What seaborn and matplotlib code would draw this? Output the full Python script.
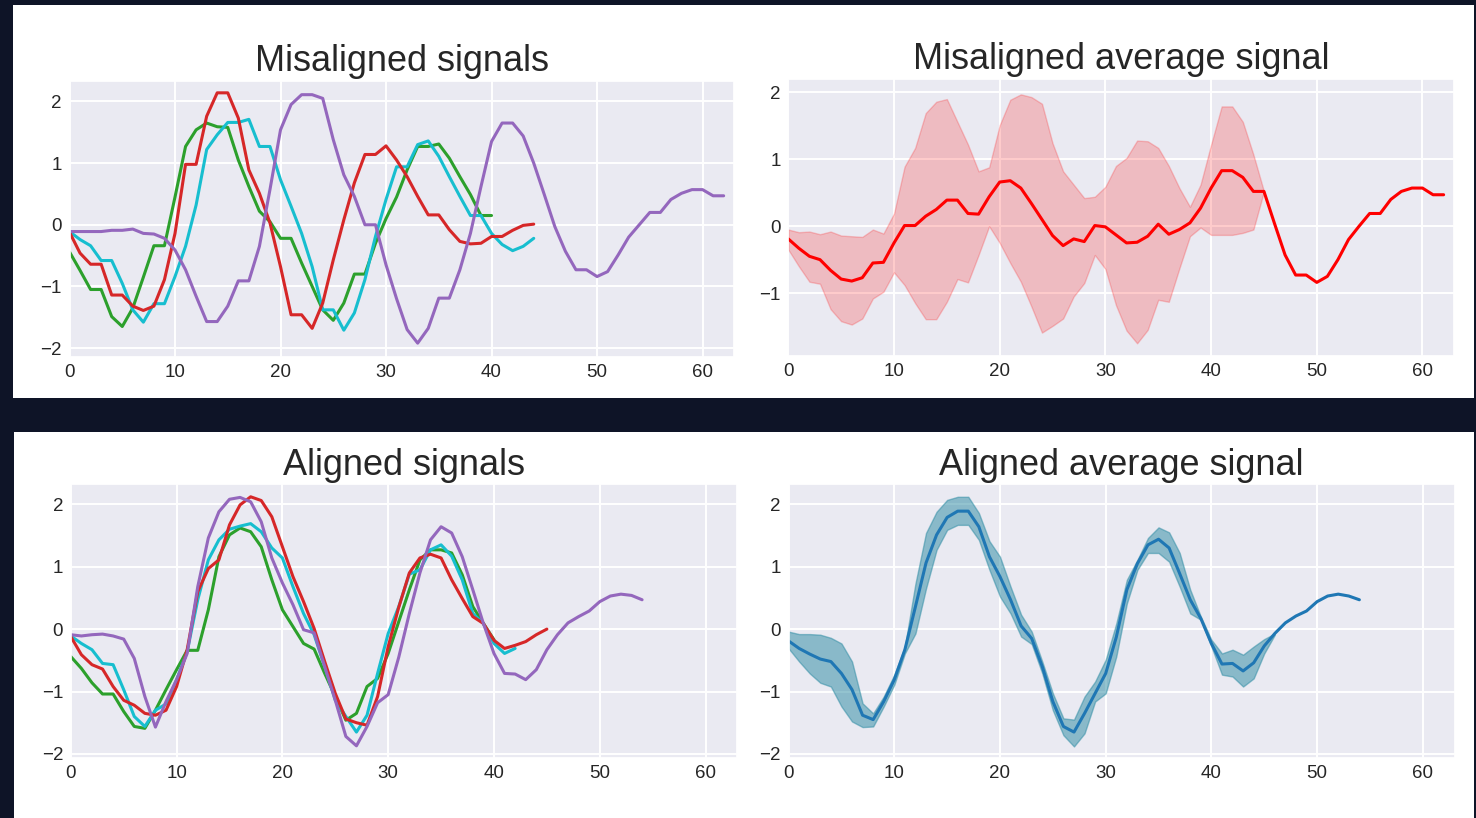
import numpy as np
import pandas as pd
import matplotlib
matplotlib.use("Agg")
import matplotlib.pyplot as plt
import seaborn as sns
from matplotlib.patches import Rectangle

# ---------------- data ----------------
titles = ["Misaligned signals", "Misaligned average signal",
          "Aligned signals", "Aligned average signal"]
x_ticks = [0, 10, 20, 30, 40, 50, 60]

mis_green = [-0.44, -0.74, -1.05, -1.05, -1.49, -1.65, -1.35, -0.85, -0.34, -0.34,
             0.45, 1.27, 1.54, 1.65, 1.59, 1.58, 1.05, 0.62, 0.22, 0.05,
             -0.22, -0.22, -0.62, -1.0, -1.38, -1.55, -1.27, -0.8, -0.8, -0.3,
             0.1, 0.45, 0.89, 1.27, 1.27, 1.31, 1.08, 0.78, 0.49, 0.15, 0.15]
mis_cyan = [-0.11, -0.24, -0.34, -0.58, -0.58, -0.95, -1.38, -1.58, -1.28, -1.28,
            -0.84, -0.35, 0.32, 1.22, 1.46, 1.66, 1.66, 1.71, 1.27, 1.27,
            0.73, 0.30, -0.14, -0.68, -1.38, -1.38, -1.71, -1.43, -0.89, -0.19,
            0.41, 0.94, 0.94, 1.30, 1.36, 1.11, 0.78, 0.46, 0.15, 0.15,
            -0.14, -0.32, -0.42, -0.35, -0.22]
mis_red = [-0.12, -0.46, -0.64, -0.64, -1.14, -1.14, -1.32, -1.39, -1.32, -0.89,
           -0.14, 0.98, 0.98, 1.76, 2.14, 2.14, 1.73, 0.89, 0.51, 0.03,
           -0.68, -1.46, -1.46, -1.68, -1.27, -0.57, 0.08, 0.68, 1.14, 1.14,
           1.28, 1.05, 0.78, 0.46, 0.16, 0.16, -0.08, -0.27, -0.31, -0.30,
           -0.19, -0.19, -0.09, -0.01, 0.01]
mis_purple = [-0.11, -0.11, -0.11, -0.11, -0.09, -0.09, -0.07, -0.14, -0.15, -0.22,
              -0.41, -0.73, -1.16, -1.57, -1.57, -1.32, -0.91, -0.91, -0.35, 0.57,
              1.54, 1.95, 2.11, 2.11, 2.05, 1.38, 0.81, 0.46, 0.0, 0.0,
              -0.65, -1.2, -1.70, -1.92, -1.68, -1.19, -1.19, -0.73, -0.14, 0.62,
              1.35, 1.65, 1.65, 1.44, 1.0, 0.49, -0.03, -0.43, -0.73, -0.73,
              -0.84, -0.76, -0.49, -0.2, 0.0, 0.2, 0.2, 0.41, 0.51, 0.57,
              0.57, 0.47, 0.47]

mis_mean = [-0.19, -0.33, -0.45, -0.50, -0.66, -0.79, -0.82, -0.77, -0.55, -0.54,
            -0.25, 0.01, 0.01, 0.15, 0.25, 0.39, 0.39, 0.19, 0.18, 0.44,
            0.66, 0.68, 0.57, 0.34, 0.10, -0.14, -0.29, -0.19, -0.23, 0.01,
            -0.01, -0.13, -0.25, -0.24, -0.15, 0.03, -0.12, -0.05, 0.05, 0.27,
            0.57, 0.83, 0.83, 0.73, 0.52, 0.52, 0.04, -0.43, -0.73, -0.73,
            -0.84, -0.75, -0.50, -0.20, 0.0, 0.19, 0.19, 0.40, 0.52, 0.57,
            0.57, 0.47, 0.47]
mis_upper = [-0.05, -0.09, -0.08, -0.12, -0.08, -0.14, -0.15, -0.16, -0.05, -0.11,
             0.19, 0.89, 1.17, 1.69, 1.86, 1.90, 1.56, 1.22, 0.82, 0.88,
             1.51, 1.89, 1.97, 1.93, 1.83, 1.24, 0.82, 0.62, 0.42, 0.44,
             0.59, 0.90, 1.02, 1.28, 1.27, 1.17, 0.90, 0.57, 0.29, 0.62,
             1.22, 1.79, 1.79, 1.56, 1.07, 0.52]
mis_lower = [-0.35, -0.60, -0.83, -0.86, -1.24, -1.42, -1.47, -1.38, -1.08, -0.98,
             -0.69, -0.88, -1.15, -1.39, -1.39, -1.13, -0.79, -0.84, -0.43, 0.0,
             -0.25, -0.55, -0.83, -1.20, -1.59, -1.49, -1.38, -1.05, -0.85, -0.43,
             -0.64, -1.18, -1.56, -1.75, -1.55, -1.10, -1.13, -0.63, -0.15, -0.02,
             -0.13, -0.13, -0.13, -0.10, -0.05, 0.52]

al_green = [-0.44, -0.63, -0.86, -1.04, -1.04, -1.32, -1.56, -1.59, -1.30, -0.97,
            -0.65, -0.34, -0.34, 0.31, 1.16, 1.51, 1.62, 1.56, 1.32, 0.79,
            0.31, 0.04, -0.23, -0.32, -0.71, -1.08, -1.46, -1.35, -0.92, -0.79,
            -0.39, 0.12, 0.63, 1.11, 1.27, 1.27, 1.22, 0.87, 0.36, 0.09,
            -0.17]
al_cyan = [-0.11, -0.23, -0.33, -0.55, -0.57, -0.97, -1.40, -1.56, -1.30, -1.20,
           -0.81, -0.36, 0.47, 1.11, 1.43, 1.60, 1.65, 1.69, 1.56, 1.30,
           1.14, 0.68, 0.25, -0.09, -0.60, -1.14, -1.40, -1.65, -1.38, -0.71,
           -0.07, 0.36, 0.88, 0.95, 1.27, 1.35, 1.17, 0.79, 0.25, 0.09,
           -0.23, -0.39, -0.31]
al_red = [-0.12, -0.41, -0.57, -0.64, -0.92, -1.14, -1.22, -1.35, -1.38, -1.30,
          -0.92, -0.33, 0.60, 0.97, 1.11, 1.67, 1.99, 2.12, 2.06, 1.80,
          1.32, 0.84, 0.44, 0.01, -0.52, -1.03, -1.44, -1.50, -1.54, -1.08,
          -0.28, 0.35, 0.90, 1.14, 1.20, 1.14, 0.79, 0.49, 0.20, 0.09,
          -0.18, -0.31, -0.26, -0.20, -0.09, 0.0]
al_purple = [-0.09, -0.11, -0.09, -0.08, -0.11, -0.16, -0.47, -1.08, -1.57, -1.16,
             -0.81, -0.39, 0.68, 1.46, 1.88, 2.08, 2.11, 2.04, 1.72, 1.14,
             0.74, 0.39, -0.01, -0.06, -0.60, -1.14, -1.72, -1.87, -1.56, -1.18,
             -1.05, -0.45, 0.25, 0.90, 1.43, 1.64, 1.54, 1.16, 0.63, 0.09,
             -0.39, -0.71, -0.72, -0.81, -0.65, -0.33, -0.09, 0.10, 0.20, 0.29,
             0.44, 0.53, 0.56, 0.54, 0.47]

al_mean = [-0.19, -0.31, -0.40, -0.48, -0.52, -0.71, -0.97, -1.38, -1.45, -1.16,
           -0.81, -0.33, 0.36, 1.06, 1.51, 1.79, 1.89, 1.89, 1.64, 1.16,
           0.84, 0.47, 0.05, -0.15, -0.60, -1.16, -1.56, -1.65, -1.35, -1.03,
           -0.71, -0.13, 0.63, 1.05, 1.35, 1.44, 1.30, 0.89, 0.47, 0.17,
           -0.23, -0.56, -0.55, -0.67, -0.54, -0.27, -0.07, 0.10, 0.21, 0.29,
           0.44, 0.53, 0.56, 0.53, 0.47]
al_upper = [-0.04, -0.08, -0.08, -0.09, -0.14, -0.23, -0.52, -1.19, -1.35, -1.08,
            -0.73, -0.28, 0.73, 1.54, 1.88, 2.07, 2.12, 2.12, 1.86, 1.41,
            1.16, 0.68, 0.23, -0.04, -0.52, -1.03, -1.43, -1.45, -1.08, -0.84,
            -0.49, 0.09, 0.79, 1.11, 1.46, 1.63, 1.55, 1.22, 0.63, 0.20,
            -0.17, -0.39, -0.33, -0.41, -0.28, -0.16, -0.07]
al_lower = [-0.31, -0.52, -0.71, -0.86, -0.92, -1.24, -1.48, -1.57, -1.56, -1.24,
            -0.89, -0.39, -0.07, 0.65, 1.27, 1.59, 1.67, 1.67, 1.43, 0.95,
            0.52, 0.25, -0.12, -0.24, -0.71, -1.30, -1.70, -1.88, -1.67, -1.16,
            -1.03, -0.44, 0.41, 0.95, 1.22, 1.22, 1.08, 0.68, 0.25, 0.15,
            -0.28, -0.73, -0.76, -0.92, -0.79, -0.39, -0.09]

# ---------------- style ----------------
sns.set_theme(style="darkgrid")
plt.rcParams['font.family'] = ['Liberation Sans', 'DejaVu Sans']
plt.rcParams['text.color'] = '#262626'
plt.rcParams['xtick.color'] = '#262626'
plt.rcParams['ytick.color'] = '#262626'
plt.rcParams['grid.linewidth'] = 1.4

W, H = 1476, 818
fig = plt.figure(figsize=(W / 100, H / 100), dpi=100, facecolor='#0e1427')

# white panels (screenshot-like framing), drawn behind the axes
fig.patches.append(Rectangle((13 / W, 1 - 398 / H), (1474 - 13) / W, (398 - 5) / H,
                             transform=fig.transFigure, facecolor='white',
                             edgecolor='none', zorder=-10))
fig.patches.append(Rectangle((14 / W, 0), (1474 - 14) / W, (818 - 432) / H,
                             transform=fig.transFigure, facecolor='white',
                             edgecolor='none', zorder=-10))


def add_ax(l, r, t, b):
    a = fig.add_axes([l / W, 1 - b / H, (r - l) / W, (b - t) / H])
    a.set_zorder(1)
    return a


ax_tl = add_ax(69.5, 734.2, 80.5, 356.7)
ax_tr = add_ax(788.3, 1454.2, 79.0, 356.0)
ax_bl = add_ax(70.8, 737.3, 484.3, 758.3)
ax_br = add_ax(788.6, 1454.5, 484.3, 758.3)

sig_colors = {'green': '#2ca02c', 'cyan': '#17becf', 'red': '#d62728', 'purple': '#9467bd'}
LW = 2.2


def plot_signals(ax, series):
    for name, vals in series:
        sns.lineplot(x=np.arange(len(vals)), y=vals, ax=ax, color=sig_colors[name], lw=LW)


plot_signals(ax_tl, [('green', mis_green), ('cyan', mis_cyan),
                     ('red', mis_red), ('purple', mis_purple)])
plot_signals(ax_bl, [('green', al_green), ('cyan', al_cyan),
                     ('red', al_red), ('purple', al_purple)])

# misaligned average
xb = np.arange(len(mis_upper))
ax_tr.fill_between(xb, mis_lower, mis_upper, color='red', alpha=0.2, lw=1)
sns.lineplot(x=np.arange(len(mis_mean)), y=mis_mean, ax=ax_tr, color='red', lw=LW)

# aligned average
xb2 = np.arange(len(al_upper))
ax_br.fill_between(xb2, al_lower, al_upper, facecolor='#2a8aa2', edgecolor='#2a8aa2',
                   alpha=0.5, lw=1)
sns.lineplot(x=np.arange(len(al_mean)), y=al_mean, ax=ax_br, color='#1f77b4', lw=LW)

ylims = [(-2.14, 2.34), (-1.94, 2.2), (-2.07, 2.32), (-2.07, 2.32)]
yticks = [[-2, -1, 0, 1, 2], [-1, 0, 1, 2], [-2, -1, 0, 1, 2], [-2, -1, 0, 1, 2]]
for ax, title, yl, yt in zip([ax_tl, ax_tr, ax_bl, ax_br], titles, ylims, yticks):
    ax.set_xlim(0, 63)
    ax.set_ylim(*yl)
    ax.set_xticks(x_ticks)
    ax.set_yticks(yt)
    ax.set_title(title, fontsize=26, pad=7, color='#262626')
    ax.tick_params(axis='x', labelsize=13.5, length=0, pad=5)
    ax.tick_params(axis='y', labelsize=13.5, length=0, pad=5.5)
    ax.set_xlabel('')
    ax.set_ylabel('')

fig.savefig('out.png', dpi=100, facecolor=fig.get_facecolor())
